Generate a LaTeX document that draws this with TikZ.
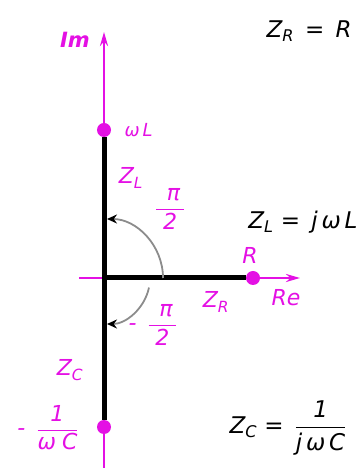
\documentclass[tikz,border=0pt]{standalone}
\usepackage{amsmath}
\usepackage{fontspec}
\setmainfont{DejaVu Sans}
\usetikzlibrary{arrows.meta}
\definecolor{mag}{RGB}{228,16,228}
\definecolor{arcgray}{RGB}{140,140,140}

\begin{document}
\begin{tikzpicture}[x=1pt,y=1pt,
  every node/.style={font=\fontsize{23}{26}\selectfont},
  axis/.style={draw=mag,line width=2.8pt,-{Stealth[length=14pt,width=8pt]}},
  phasor/.style={line width=5pt,black},
  dot/.style={circle,fill=mag,inner sep=0pt,minimum size=14pt},
  lbl/.style={text=mag,font=\fontsize{22}{25}\selectfont\itshape},
  eq/.style={text=black,font=\fontsize{23}{26}\selectfont\itshape},
  turn/.style={draw=arcgray,line width=1.8pt,-{Stealth[length=10pt,width=9pt,black]}}]
\useasboundingbox (0,0) rectangle (361,468);
% axes
\coordinate (O) at (104,190);
\coordinate (imbot) at (104,0);
\coordinate (imtop) at (104,436);
\coordinate (retick) at (79,190);
\coordinate (retip) at (300,190);
\node[dot] (wL) at (104,338) {};
\node[dot] (R) at (253,190) {};
\node[dot] (C) at (104,41) {};
\draw[axis] (imbot) -- (imtop);
\draw[axis] (retick) -- (retip);
% impedances
\draw[phasor] (wL) -- (O);
\draw[phasor] (O) -- (C);
\draw[phasor] (O) -- (R);
% angles
\draw[turn,shorten >=3pt] (163,190) arc[start angle=0,end angle=90,radius=59];
\draw[turn,shorten >=3pt] ([shift={(-12:46)}]O) arc[start angle=-12,end angle=-90,radius=46];
% labels
\node[lbl,font=\fontsize{21}{24}\selectfont\bfseries\itshape] (im) at (75,428) {Im};
\node[lbl,font=\fontsize{18}{21}\selectfont\itshape,anchor=west] (wLt) at (121,338) {ω\,L};
\node[lbl] (ZL) at (131,290) {Z\textsubscript{L}};
\node[lbl] (piup) at (170,259) {$\dfrac{\text{\itshape\, π\,}}{\text{\itshape 2}}$};
\node[eq] (ZLeq) at (303,246) {Z\textsubscript{L} = \,j\,ω\,L};
\node[lbl] (Rt) at (250,213) {R};
\node[lbl] (Re) at (286,170) {Re};
\node[lbl] (ZR) at (216,166) {Z\textsubscript{R}};
\node[lbl] (pidn) at (153,143) {-\enspace$\dfrac{\text{\itshape\, π\,}}{\text{\itshape 2}}$};
\node[lbl] (ZC) at (70,98) {Z\textsubscript{C}};
\node[lbl] (Cval) at (48,40) {-\enspace$\dfrac{\text{\itshape 1}}{\text{\itshape ω\;C}}$};
\node[eq] (ZCeq) at (288,40) {Z\textsubscript{C} = \,$\dfrac{\text{\itshape 1}}{\text{\itshape j\,ω\,C}}$};
\node[eq] (ZReq) at (309,437) {Z\textsubscript{R} \,=\, R};
\end{tikzpicture}
\end{document}
